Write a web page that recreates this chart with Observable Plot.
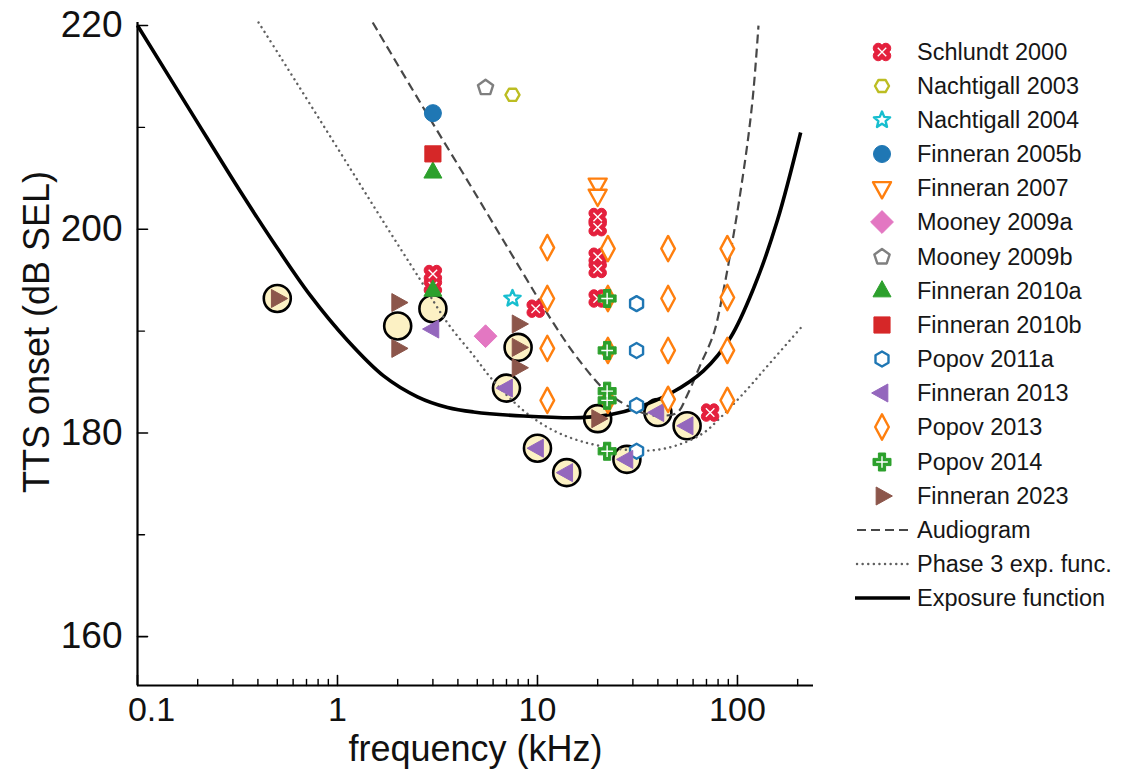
<!DOCTYPE html>
<html><head><meta charset="utf-8">
<script src="https://cdn.jsdelivr.net/npm/d3@7"></script>
<script src="https://cdn.jsdelivr.net/npm/@observablehq/plot@0.6"></script>
<style>
body{margin:0;background:#fff;font-family:"Liberation Sans",Arial,sans-serif;}
#wrap{position:relative;width:1123px;height:782px;overflow:hidden;}
.lg-sym{position:absolute;}
.lg-txt{position:absolute;font-size:23.5px;color:#161616;white-space:nowrap;line-height:34px;}
#ylab{position:absolute;left:37px;top:332px;transform:translate(-50%,-50%) rotate(-90deg);font-size:36px;color:#111;white-space:nowrap;}
</style></head><body><div id="wrap"></div>
<script>
// ---------- data (frequency kHz, TTS onset dB SEL) ----------
const schlundt2000   = [[3,195.6],[3,194.4],[9.8,192.2],[20,201.2],[20,200.2],[20,197.3],[20,196.1],[20,193.2],[73,182.0]];
const nachtigall2003 = [[7.5,213.2]];
const nachtigall2004 = [[7.5,193.2]];
const finneran2005b  = [[3,211.4]];
const finneran2007   = [[20,204.4],[20,203.3]];
const mooney2009a    = [[5.5,189.5]];
const mooney2009b    = [[5.5,213.9]];
const finneran2010a  = [[3,205.6],[3,194.0]];
const finneran2010b  = [[3,207.4]];
const popov2011a     = [[31.3,192.7],[31.3,188.1],[31.3,182.7],[31.3,178.2]];
const finneran2013   = [[3,190.2],[7,184.4],[10,178.5],[14,176.1],[28,177.4],[40,182.0],[56,180.7]];
const popov2013      = [[11.2,198.2],[11.2,193.2],[11.2,188.3],[11.2,183.2],[22.5,198.1],[22.5,193.2],[22.5,188.1],[22.5,183.2],
                        [45,198.1],[45,193.2],[45,188.1],[45,183.3],[89,198.1],[89,193.3],[89,188.1],[89,183.2]];
const popov2014      = [[22.3,193.2],[22.3,188.1],[22.3,184.1],[22.3,183.2],[22.3,178.2]];
const finneran2023   = [[0.5,193.2],[2,192.8],[2,188.3],[8,190.7],[8,188.4],[8,186.4],[20,181.4]];
const circled        = [[0.5,193.2],[2,190.5],[3,192.2],[7,184.4],[8,188.4],[10,178.5],[14,176.1],[20,181.4],[28,177.4],[40,182.0],[56,180.7]];

const exposureFreq  = [0.1,0.184,0.327,0.479,0.731,1.12,1.70,2.51,3.55,4.79,8.51,16.4,23.3,31.6,46.4,67.6,92.5,121,158,207];
const exposureLevel = [220,211.6,203.7,198.7,193.5,189.1,185.6,183.55,182.5,182.06,181.66,181.5,181.8,182.5,183.9,186.1,189.4,194.3,200.8,209.5];
const phase3Freq    = [0.403,0.519,1.035,1.64,2.60,3.55,4.79,6.03,8.51,11.6,16.4,26.0,38.0,51.9,67.6,82.2,112,146,207];
const phase3Level   = [220.3,216.9,207.5,201.2,195.0,190.8,187.6,185.1,182.2,180.4,179.2,178.4,178.3,178.9,180.0,181.5,184.3,186.9,190.3];
const audioFreq     = [1.50,2.60,4.62,8.22,12.0,15.5,20.7,24.5,29.2,35.9,43.7,50.1,56.2,65.3,75.9,85.1,95.5,104.7,113.5,120.2,127.4];
const audioLevel    = [220.3,212.4,204.3,196.1,190.8,187.6,184.6,183.4,182.5,181.8,181.7,182.0,183.75,186.7,189.7,194.0,199.4,204.3,209.2,213.6,220.0];

const xMajorTicks = [0.1,1,10,100];
const xMinorTicks = [0.2,0.3,0.4,0.5,0.6,0.7,0.8,0.9,2,3,4,5,6,7,8,9,20,30,40,50,60,70,80,90,200];
const yMajorTicks = [160,180,200,220];
const yMinorTicks = [170,190,210];
const xDomain = [0.1,240];
const yDomain = [155.2,220.3];
const xTitle = "frequency (kHz)";
const yTitle = "TTS onset (dB SEL)";

// ---------- symbols ----------
const R = size => Math.sqrt(size/Math.PI);
const poly = pts => ({draw(ctx,size){const r=R(size);pts.forEach(([a,b],i)=>i?ctx.lineTo(a*r,b*r):ctx.moveTo(a*r,b*r));ctx.closePath();}});
const ngon = (n,start) => poly(d3.range(n).map(k=>{const a=(start+360*k/n)*Math.PI/180;return [Math.cos(a),Math.sin(a)];}));
const star = poly(d3.range(10).map(k=>{const a=(-90+36*k)*Math.PI/180,rr=k%2?0.45:1;return [rr*Math.cos(a),rr*Math.sin(a)];}));
const flower = {draw(ctx,size){const r=R(size),c=0.45*r,rr=0.58*r;[[c,c],[-c,c],[-c,-c],[c,-c]].forEach(([x,y])=>{ctx.moveTo(x+rr,y);ctx.arc(x,y,rr,0,2*Math.PI);});}};
const xLines = {draw(ctx,size){const r=R(size)*0.5;ctx.moveTo(-r,-r);ctx.lineTo(r,r);ctx.moveTo(r,-r);ctx.lineTo(-r,r);}};
const plusLines = {draw(ctx,size){const r=R(size)*0.65;ctx.moveTo(0,-r);ctx.lineTo(0,r);ctx.moveTo(-r,0);ctx.lineTo(r,0);}};
const w=0.4;
const plus = poly([[-w,-1],[w,-1],[w,-w],[1,-w],[1,w],[w,w],[w,1],[-w,1],[-w,w],[-1,w],[-1,-w],[-w,-w]]);
const circle = {draw(ctx,size){const r=R(size);ctx.moveTo(r,0);ctx.arc(0,0,r,0,2*Math.PI);}};
const triUp = poly([[0,-1.15],[1,0.65],[-1,0.65]]);
const triDown = poly([[0,1.15],[1,-0.65],[-1,-0.65]]);
const triLeft = poly([[-1.15,0],[0.65,-1],[0.65,1]]);
const triRight = poly([[1.15,0],[-0.65,-1],[-0.65,1]]);
const square = poly([[-0.85,-0.85],[0.85,-0.85],[0.85,0.85],[-0.85,0.85]]);
const diamondWide = poly([[0,-1.2],[1.2,0],[0,1.2],[-1.2,0]]);
const diamondTall = poly([[0,-1.15],[0.62,0],[0,1.15],[-0.62,0]]);

const studies = [
  {name:"Schlundt 2000", data:schlundt2000, sym:flower, r:8.5, color:"#e4203d", filled:true, inner:xLines},
  {name:"Nachtigall 2003", data:nachtigall2003, sym:ngon(6,0), r:7, color:"#bcbd22", filled:false},
  {name:"Nachtigall 2004", data:nachtigall2004, sym:star, r:8.5, color:"#17becf", filled:false},
  {name:"Finneran 2005b", data:finneran2005b, sym:circle, r:8.5, color:"#1f77b4", filled:true},
  {name:"Finneran 2007", data:finneran2007, sym:triDown, r:9, color:"#ff7f0e", filled:false},
  {name:"Mooney 2009a", data:mooney2009a, sym:diamondWide, r:9.5, color:"#e377c2", filled:true},
  {name:"Mooney 2009b", data:mooney2009b, sym:ngon(5,-90), r:8, color:"#7f7f7f", filled:false},
  {name:"Finneran 2010a", data:finneran2010a, sym:triUp, r:9, color:"#2ca02c", filled:true},
  {name:"Finneran 2010b", data:finneran2010b, sym:square, r:9.5, color:"#d62728", filled:true},
  {name:"Popov 2011a", data:popov2011a, sym:ngon(6,-90), r:7.5, color:"#1f77b4", filled:false},
  {name:"Finneran 2013", data:finneran2013, sym:triLeft, r:9, color:"#9467bd", filled:true},
  {name:"Popov 2013", data:popov2013, sym:diamondTall, r:11, color:"#ff7f0e", filled:false},
  {name:"Popov 2014", data:popov2014, sym:plus, r:9, color:"#2ca02c", filled:true, inner:plusLines},
  {name:"Finneran 2023", data:finneran2023, sym:triRight, r:9, color:"#8c564b", filled:true}
];
const curves = [
  {name:"Audiogram", f:audioFreq, v:audioLevel, stroke:"#474747", width:2.2, dash:"9,5"},
  {name:"Phase 3 exp. func.", f:phase3Freq, v:phase3Level, stroke:"#5f5f5f", width:2.4, dash:"0.1,5.5", cap:"round"},
  {name:"Exposure function", f:exposureFreq, v:exposureLevel, stroke:"#000", width:3.6, dash:null}
];

const tickShape = {draw(ctx,l){ctx.moveTo(0,0);ctx.lineTo(0,-l);}};

const marks = [];
marks.push(Plot.ruleX([xDomain[0]], {stroke:"#000", strokeWidth:2.2}));
marks.push(Plot.ruleY([yDomain[0]], {stroke:"#000", strokeWidth:2.2}));
marks.push(Plot.vector(xMajorTicks, {x:d=>d, frameAnchor:"bottom", length:10, anchor:"start", shape:tickShape, stroke:"#000", strokeWidth:1.6}));
marks.push(Plot.vector(xMinorTicks, {x:d=>d, frameAnchor:"bottom", length:6, anchor:"start", shape:tickShape, stroke:"#000", strokeWidth:1.4}));
marks.push(Plot.vector(yMajorTicks, {y:d=>d, frameAnchor:"left", rotate:90, length:10, anchor:"start", shape:tickShape, stroke:"#000", strokeWidth:1.6}));
marks.push(Plot.vector(yMinorTicks, {y:d=>d, frameAnchor:"left", rotate:90, length:7, anchor:"start", shape:tickShape, stroke:"#000", strokeWidth:1.4}));
marks.push(Plot.axisX({ticks:xMajorTicks.slice(1), tickFormat:d=>String(d), tickSize:0, tickPadding:11, fontSize:34, label:null, fill:"#111"}));
marks.push(Plot.axisX({ticks:xMajorTicks.slice(0,1), tickFormat:d=>String(d), tickSize:0, tickPadding:11, fontSize:34, label:null, fill:"#111", dx:14}));
marks.push(Plot.axisY({ticks:yMajorTicks, tickSize:0, tickPadding:15, fontSize:37, label:null, fill:"#111"}));
marks.push(Plot.text([xTitle], {frameAnchor:"bottom", dy:75, fontSize:36, fill:"#111"}));
marks.push(Plot.dot(circled, {x:d=>d[0], y:d=>d[1], r:13.5, fill:"#fcf1c4", stroke:"#000", strokeWidth:2.6}));
for (const c of curves) {
  marks.push(Plot.line(c.f, {x:c.f, y:c.v, curve:"catmull-rom", stroke:c.stroke, strokeWidth:c.width, strokeDasharray:c.dash||undefined, strokeLinecap:c.cap||"butt"}));
}
for (const s of studies) {
  marks.push(Plot.dot(s.data, {x:d=>d[0], y:d=>d[1], symbol:s.sym, r:s.r,
    fill: s.filled ? s.color : "white", stroke: s.color, strokeWidth: s.filled ? 1 : 2.4, strokeLinejoin:"round"}));
  if (s.inner) marks.push(Plot.dot(s.data, {x:d=>d[0], y:d=>d[1], symbol:s.inner, r:s.r, fill:"none", stroke:"white", strokeWidth:1.4}));
}

const chart = Plot.plot({
  width:1123, height:782,
  marginLeft:137, marginRight:310, marginTop:22, marginBottom:97,
  style:{fontFamily:"'Liberation Sans', Arial, sans-serif", background:"transparent", overflow:"visible"},
  x:{type:"log", domain:xDomain},
  y:{domain:yDomain},
  marks
});
const wrap = document.getElementById("wrap");
wrap.appendChild(chart);
d3.select(wrap).append("div").attr("id","ylab").text(yTitle);

// ---------- legend ----------
const rowH = 34.15, top0 = 51.7;
const all = [...studies.map(s=>({kind:"sym", ...s})), ...curves.map(c=>({kind:"line", ...c}))];
all.forEach((it,i)=>{
  const cy = top0 + rowH*i;
  const svg = d3.select(wrap).append("svg").attr("class","lg-sym")
    .style("left","845px").style("top",(cy-17)+"px").attr("width",74).attr("height",34);
  if (it.kind==="sym") {
    const size = Math.PI*it.r*it.r;
    svg.append("path").attr("transform","translate(37,17)").attr("d", d3.symbol(it.sym, size)())
      .attr("fill", it.filled ? it.color : "white").attr("stroke", it.color)
      .attr("stroke-width", it.filled ? 1 : 2.4).attr("stroke-linejoin","round");
    if (it.inner) svg.append("path").attr("transform","translate(37,17)").attr("d", d3.symbol(it.inner, size)())
      .attr("fill","none").attr("stroke","white").attr("stroke-width",1.4);
  } else {
    const ln = svg.append("line").attr("x1", it.dash? 12:10).attr("x2", it.dash? 63:65).attr("y1",17).attr("y2",17)
      .attr("stroke", it.stroke).attr("stroke-width", it.width);
    if (it.dash) ln.attr("stroke-dasharray", it.dash);
    if (it.cap) ln.attr("stroke-linecap", it.cap);
  }
  d3.select(wrap).append("div").attr("class","lg-txt").style("left","917px").style("top",(cy-17)+"px").text(it.name);
});
</script>
</body></html>
